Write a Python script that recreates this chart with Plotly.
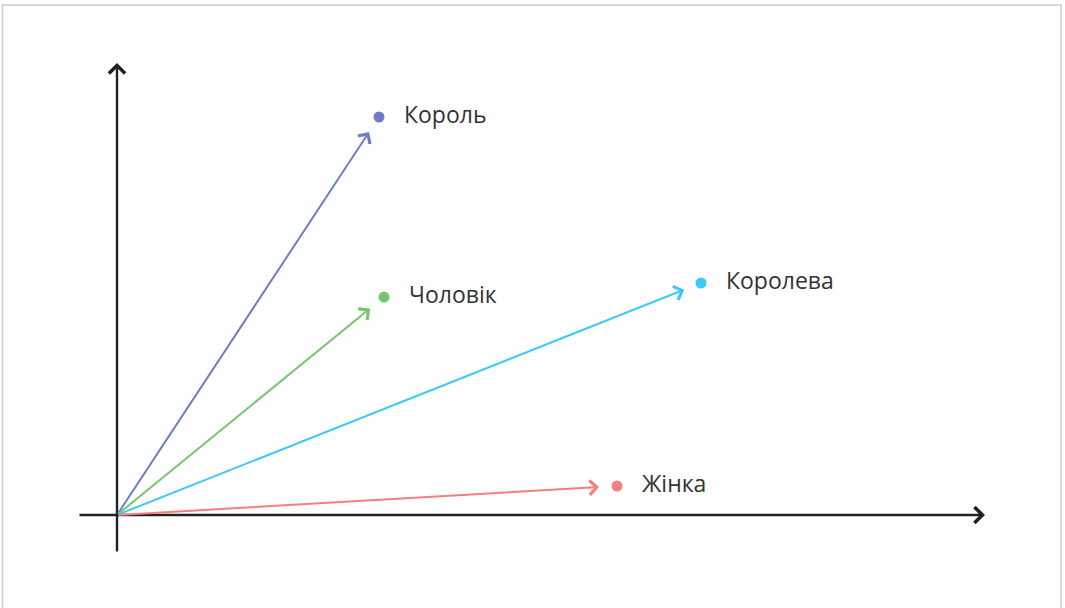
import plotly.graph_objects as go

# Word vectors (units; origin at 0,0)
words = ["Король", "Чоловік", "Королева", "Жінка"]
xs = [5.24, 5.34, 11.68, 10.00]
ys = [7.96, 4.36, 4.64, 0.58]
colors = ["#6f7dc6", "#77c66e", "#3ec8f3", "#f2807c"]

# Axis extents
x_axis = [-0.78, 17.36]
y_axis = [-0.76, 9.04]

W, H = 1065, 608
PX = 50.0  # pixels per unit
ox, oy = 117, 515

fig = go.Figure()

fig.add_trace(go.Scatter(
    x=xs, y=ys, mode="markers",
    marker=dict(size=11, color=colors),
    hoverinfo="skip", showlegend=False,
))

ann = []
# axes
ann.append(dict(x=x_axis[1], y=0, ax=x_axis[0], ay=0, xref="x", yref="y",
                axref="x", ayref="y", text="", showarrow=True, arrowhead=4,
                arrowsize=1.3, arrowwidth=2.4, arrowcolor="#222222"))
ann.append(dict(x=0, y=y_axis[1], ax=0, ay=y_axis[0], xref="x", yref="y",
                axref="x", ayref="y", text="", showarrow=True, arrowhead=4,
                arrowsize=1.3, arrowwidth=2.4, arrowcolor="#222222"))
# vectors
for w, x, y, c in zip(words, xs, ys, colors):
    ann.append(dict(x=x, y=y, ax=0, ay=0, xref="x", yref="y",
                    axref="x", ayref="y", text="", showarrow=True, arrowhead=4,
                    arrowsize=1.4, arrowwidth=2, arrowcolor=c, standoff=18))
    ann.append(dict(x=x, y=y, xref="x", yref="y", text=w, showarrow=False,
                    xanchor="left", yanchor="middle", xshift=23, yshift=3,
                    font=dict(family="Open Sans", size=23, color="#333333")))

fig.update_layout(
    width=W, height=H,
    margin=dict(l=0, r=0, t=0, b=0),
    paper_bgcolor="white", plot_bgcolor="white",
    xaxis=dict(range=[-ox / PX, (W - ox) / PX], visible=False, fixedrange=True),
    yaxis=dict(range=[-(H - oy) / PX, oy / PX], visible=False, fixedrange=True),
    annotations=ann,
    shapes=[dict(type="rect", xref="paper", yref="paper",
                 x0=2.5 / W, x1=1061 / W, y0=-0.05, y1=1 - 5 / H,
                 line=dict(color="#cccccc", width=1.5), layer="below")],
)

fig.write_html("out.html", config={"displayModeBar": False},
               post_script="document.body.style.margin='0';document.body.style.overflow='hidden';")
